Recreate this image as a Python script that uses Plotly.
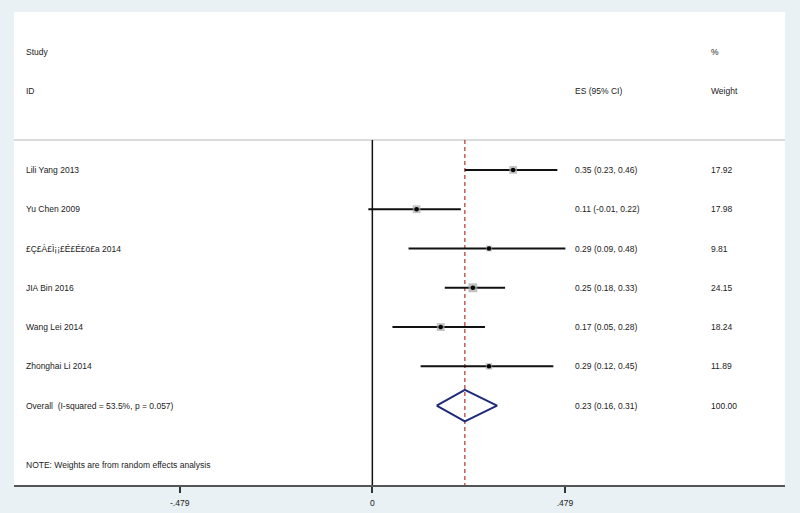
import plotly.graph_objects as go

studies = ["Lili Yang 2013", "Yu Chen 2009", "£Ç£À£Ì¡¡£É£É£ö£a 2014", "JIA Bin 2016",
           "Wang Lei 2014", "Zhonghai Li 2014"]
es = [0.35, 0.11, 0.29, 0.25, 0.17, 0.29]
lo = [0.23, -0.01, 0.09, 0.18, 0.05, 0.12]
hi = [0.46, 0.22, 0.48, 0.33, 0.28, 0.45]
weights = [17.92, 17.98, 9.81, 24.15, 18.24, 11.89]
overall_label = "Overall  (I-squared = 53.5%, p = 0.057)"
overall = [0.23, 0.16, 0.31]
note = "NOTE: Weights are from random effects analysis"
tick_vals = [-0.479, 0, 0.479]
tick_text = ["-.479", "0", ".479"]

XMIN, XMAX = -0.891, 1.026
YTOP, YBOT = -1.02, 11.02
rows = list(range(3, 3 + len(studies)))
overall_row = 9
note_row = 10.5
sep_row = 2.24
col_label, col_es, col_w = -0.866, 0.499, 0.836

TXT = "#222222"
FONT = "Liberation Sans, Arial, sans-serif"

fig = go.Figure()

# separator line
fig.add_trace(go.Scatter(x=[XMIN, XMAX], y=[sep_row, sep_row], mode="lines",
                         line=dict(color="#cfcfcf", width=1.5), hoverinfo="skip"))
# zero line
fig.add_trace(go.Scatter(x=[0, 0], y=[sep_row, YBOT], mode="lines",
                         line=dict(color="#111111", width=1.5), hoverinfo="skip"))
# overall dashed line
fig.add_trace(go.Scatter(x=[overall[0], overall[0]], y=[sep_row, YBOT], mode="lines",
                         line=dict(color="#b5332b", width=1.2, dash="4px,3px"), hoverinfo="skip"))

# CI lines
cx, cy = [], []
for r, l, h in zip(rows, lo, hi):
    cx += [l, h, None]
    cy += [r, r, None]
fig.add_trace(go.Scatter(x=cx, y=cy, mode="lines", line=dict(color="#111111", width=2),
                         hoverinfo="skip"))

# weight squares
sizes = [9 * (w / max(weights)) ** 0.5 for w in weights]
fig.add_trace(go.Scatter(x=es, y=rows, mode="markers",
                         marker=dict(symbol="square", size=sizes, color="#a8a8a8",
                                     line=dict(width=0)), hoverinfo="skip"))
fig.add_trace(go.Scatter(x=es, y=rows, mode="markers",
                         marker=dict(symbol="circle", size=4.5, color="#000000"), hoverinfo="skip"))

# diamond
h = 0.40
fig.add_trace(go.Scatter(x=[overall[1], overall[0], overall[2], overall[0], overall[1]],
                         y=[overall_row, overall_row - h, overall_row, overall_row + h, overall_row],
                         mode="lines", line=dict(color="#1f2b7a", width=2), hoverinfo="skip"))

ann = []
def add(x, y, t):
    ann.append(dict(x=x, y=y, text=t, xref="x", yref="y", xanchor="left", yanchor="middle",
                    showarrow=False, font=dict(size=8.5, color=TXT, family=FONT)))

add(col_label, 0, "Study")
add(col_label, 1, "ID")
add(col_es, 1, "ES (95% CI)")
add(col_w, 0, "%")
add(col_w, 1, "Weight")
for r, s, e, l, hh, w in zip(rows, studies, es, lo, hi, weights):
    add(col_label, r, s)
    add(col_es, r, f"{e:.2f} ({l:.2f}, {hh:.2f})")
    add(col_w, r, f"{w:.2f}")
add(col_label, overall_row, overall_label)
add(col_es, overall_row, f"{overall[0]:.2f} ({overall[1]:.2f}, {overall[2]:.2f})")
add(col_w, overall_row, "100.00")
add(col_label, note_row, note)

fig.update_layout(
    width=800, height=513,
    margin=dict(l=14, r=15, t=12, b=28),
    paper_bgcolor="#e9f1f4", plot_bgcolor="#ffffff",
    showlegend=False,
    annotations=ann,
    xaxis=dict(range=[XMIN, XMAX], tickvals=tick_vals, ticktext=tick_text,
               showgrid=False, zeroline=False, showline=True, linecolor="#555555", linewidth=2,
               ticks="outside", ticklen=6, tickwidth=1.5, tickcolor="#333333",
               ticklabelstandoff=3, automargin=False,
               tickfont=dict(size=8.5, color=TXT, family=FONT)),
    yaxis=dict(range=[YBOT, YTOP], showgrid=False, zeroline=False, showticklabels=False,
               showline=False, automargin=False),
)

fig.write_html("out.html", config={"displayModeBar": False},
               post_script="document.body.style.margin='0';")
